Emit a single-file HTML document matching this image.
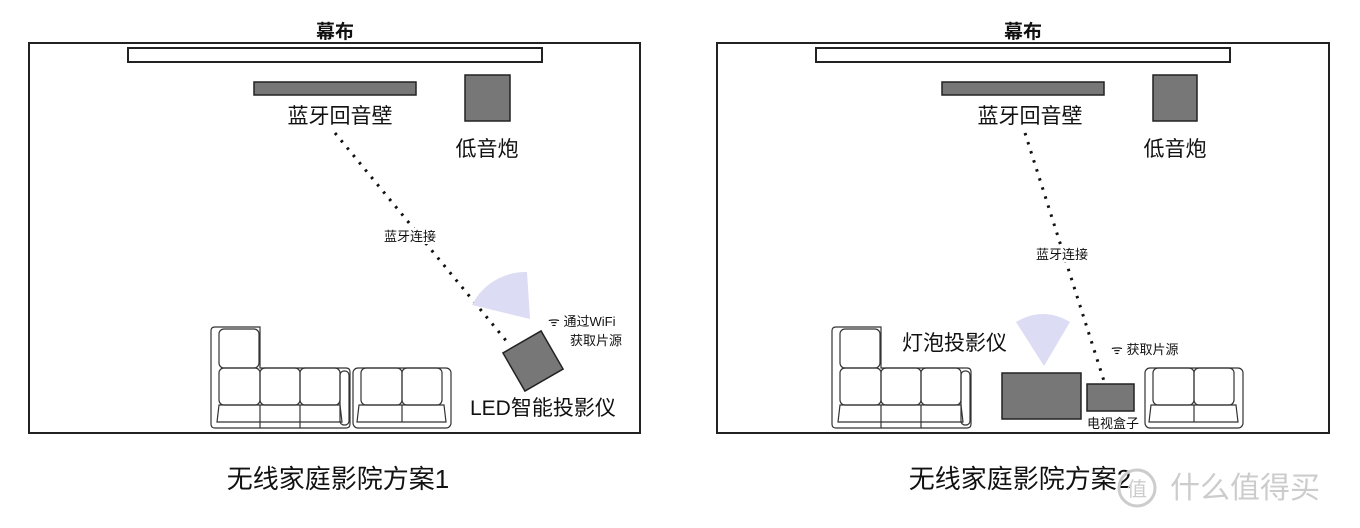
<!DOCTYPE html>
<html><head><meta charset="utf-8"><style>
body{margin:0;background:#fff}
svg{display:block}
text{font-family:"Liberation Sans","Noto Sans CJK SC",sans-serif;fill:#111}
</style></head><body>
<svg width="1360" height="528" viewBox="0 0 1360 528" xmlns="http://www.w3.org/2000/svg">
<defs>
<g id="sofaL" fill="none" stroke="#333" stroke-width="1.2">
  <path d="M0 4 Q0 0 4 0 H49 V41 H135 Q139 41 139 45 V97 Q139 101 135 101 H4 Q0 101 0 97 Z"/>
  <rect x="8" y="2" width="40" height="39" rx="5"/>
  <rect x="8" y="41" width="41" height="37" rx="5"/>
  <rect x="49" y="41" width="40" height="37" rx="5"/>
  <rect x="89" y="41" width="40" height="37" rx="5"/>
  <path d="M8 78 H129 L131 95 H6 Z"/>
  <line x1="49" y1="78" x2="49" y2="101"/>
  <line x1="89" y1="78" x2="89" y2="101"/>
  <rect x="129" y="44" width="9" height="54" rx="4"/>
</g>
<g id="sofaR" fill="none" stroke="#333" stroke-width="1.2">
  <rect x="0" y="41" width="98" height="60" rx="5"/>
  <rect x="8" y="41" width="41" height="37" rx="5"/>
  <rect x="49" y="41" width="40" height="37" rx="5"/>
  <path d="M6 78 H91 L93 95 H4 Z"/>
  <line x1="49" y1="78" x2="49" y2="95"/>
</g>
</defs>

<!-- LEFT PANEL -->
<rect x="29" y="43" width="611" height="390" fill="none" stroke="#222" stroke-width="2"/>
<text x="335" y="38" font-size="19" font-weight="bold" text-anchor="middle">幕布</text>
<rect x="128" y="48" width="414" height="14" fill="#fff" stroke="#222" stroke-width="2"/>
<rect x="254" y="82" width="162" height="13" fill="#777" stroke="#222" stroke-width="1.5"/>
<rect x="465" y="75" width="45" height="46" fill="#777" stroke="#222" stroke-width="1.5"/>
<text x="340" y="123" font-size="21" text-anchor="middle">蓝牙回音壁</text>
<text x="487" y="156" font-size="21" text-anchor="middle">低音炮</text>
<line x1="335" y1="133" x2="508" y2="343" stroke="#111" stroke-width="3" stroke-dasharray="2.5 7"/>
<rect x="380" y="228" width="60" height="16" fill="#fff"/>
<text x="410" y="241" font-size="13" text-anchor="middle">蓝牙连接</text>
<path d="M530 319 L472 305 A60 60 0 0 1 527 272 Z" fill="#dcdcf5"/>
<rect x="511" y="339" width="44" height="44" fill="#777" stroke="#222" stroke-width="1.5" transform="rotate(-30 533 361)"/>
<text x="548" y="326" font-size="13">ᯤ 通过WiFi</text>
<text x="570" y="345" font-size="13">获取片源</text>
<text x="470" y="415" font-size="21">LED智能投影仪</text>
<use href="#sofaL" x="211" y="327"/>
<use href="#sofaR" x="353" y="327"/>
<text x="338" y="488" font-size="26" text-anchor="middle">无线家庭影院方案1</text>

<!-- RIGHT PANEL -->
<rect x="717" y="43" width="612" height="390" fill="none" stroke="#222" stroke-width="2"/>
<text x="1023" y="38" font-size="19" font-weight="bold" text-anchor="middle">幕布</text>
<rect x="816" y="48" width="414" height="14" fill="#fff" stroke="#222" stroke-width="2"/>
<rect x="942" y="82" width="162" height="13" fill="#777" stroke="#222" stroke-width="1.5"/>
<rect x="1153" y="75" width="44" height="46" fill="#777" stroke="#222" stroke-width="1.5"/>
<text x="1030" y="123" font-size="21" text-anchor="middle">蓝牙回音壁</text>
<text x="1175" y="156" font-size="21" text-anchor="middle">低音炮</text>
<line x1="1025" y1="133" x2="1104" y2="381" stroke="#111" stroke-width="3" stroke-dasharray="2.5 7"/>
<rect x="1032" y="246" width="60" height="16" fill="#fff"/>
<text x="1062" y="259" font-size="13" text-anchor="middle">蓝牙连接</text>
<path d="M1016 322 Q1043 306 1070 322 L1044 366 Z" fill="#dcdcf5"/>
<rect x="1002" y="373" width="79" height="46" fill="#777" stroke="#222" stroke-width="1.5"/>
<rect x="1087" y="384" width="47" height="27" fill="#777" stroke="#222" stroke-width="1.5"/>
<text x="1113" y="428" font-size="13" text-anchor="middle">电视盒子</text>
<text x="902" y="350" font-size="21">灯泡投影仪</text>
<text x="1111" y="354" font-size="13">ᯤ 获取片源</text>
<use href="#sofaL" x="832" y="327"/>
<use href="#sofaR" x="1145" y="327"/>
<text x="1020" y="488" font-size="26" text-anchor="middle">无线家庭影院方案2</text>
<circle cx="1137" cy="488" r="18" fill="none" stroke="#ccc" stroke-width="3"/>
<text x="1137" y="496" font-size="20" text-anchor="middle" style="fill:#ccc">值</text>
<text x="1170" y="498" font-size="30" style="fill:#ccc">什么值得买</text>
</svg>
</body></html>
